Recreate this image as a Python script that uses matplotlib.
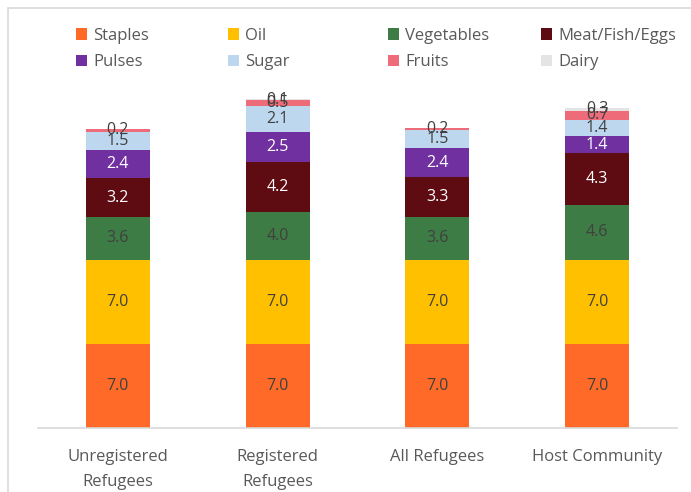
import matplotlib.pyplot as plt
from matplotlib.patches import Rectangle

plt.rcParams['font.family'] = ['Open Sans', 'DejaVu Sans']

groups = ["Unregistered\nRefugees", "Registered\nRefugees", "All Refugees", "Host Community"]
categories = ["Staples", "Oil", "Vegetables", "Meat/Fish/Eggs", "Pulses", "Sugar", "Fruits", "Dairy"]
staples = [7.0, 7.0, 7.0, 7.0]
oil = [7.0, 7.0, 7.0, 7.0]
vegetables = [3.6, 4.0, 3.6, 4.6]
meat = [3.2, 4.2, 3.3, 4.3]
pulses = [2.4, 2.5, 2.4, 1.4]
sugar = [1.5, 2.1, 1.5, 1.4]
fruits = [0.2, 0.5, 0.2, 0.7]
dairy = [0.0, 0.1, 0.0, 0.3]

series = [staples, oil, vegetables, meat, pulses, sugar, fruits, dairy]
colors = ["#FF6A28", "#FFC000", "#3E7C45", "#5E0B12", "#7030A0", "#BDD7EE", "#EE6C7A", "#E4E4E4"]
label_colors = ["#404040", "#404040", "#404040", "white", "white", "#404040", "#404040", "#404040"]

fig = plt.figure(figsize=(6.91, 4.92), dpi=100)
# outer chart border
fig.patches.append(Rectangle((8 / 691, -0.1), 1.1, 1 - 8 / 492 + 0.1, transform=fig.transFigure,
                             fill=False, edgecolor="#D9D9D9", linewidth=1.2))

ax = fig.add_axes([38 / 691, 64 / 492, 639 / 691, 336 / 492])
x = range(len(groups))
bottom = [0.0] * len(groups)
handles = []
for vals, name, col, lcol in zip(series, categories, colors, label_colors):
    h = ax.bar(x, vals, width=0.4, bottom=bottom, color=col, label=name)
    handles.append(h)
    for i, v in enumerate(vals):
        if v > 0:
            ax.text(i, bottom[i] + v / 2, f"{v:.1f}", ha="center", va="center",
                    fontsize=11.5, color=lcol)
    bottom = [b + v for b, v in zip(bottom, vals)]

ax.set_xlim(-0.5, 3.5)
ax.set_ylim(0, 28.0)
ax.set_xticks(list(x))
ax.set_xticklabels(groups, fontsize=12, color="#595959", linespacing=1.75)
ax.tick_params(axis="x", length=0, pad=15)
ax.set_yticks([])
for s in ["top", "right", "left"]:
    ax.spines[s].set_visible(False)
ax.spines["bottom"].set_color("#D9D9D9")
ax.spines["bottom"].set_linewidth(1.2)

# legend: 4 fixed columns, row-wise order
col_x = [64, 216, 376, 529]
for c in range(4):
    leg = fig.legend([handles[c], handles[c + 4]], [categories[c], categories[c + 4]],
                     loc="upper left", bbox_to_anchor=(col_x[c] / 691, 1 - 16 / 492),
                     frameon=False, fontsize=12, labelcolor="#595959",
                     handlelength=0.7, handleheight=0.7, handletextpad=0.35,
                     labelspacing=0.65, borderpad=0.2)

fig.savefig("out.png", dpi=100)
